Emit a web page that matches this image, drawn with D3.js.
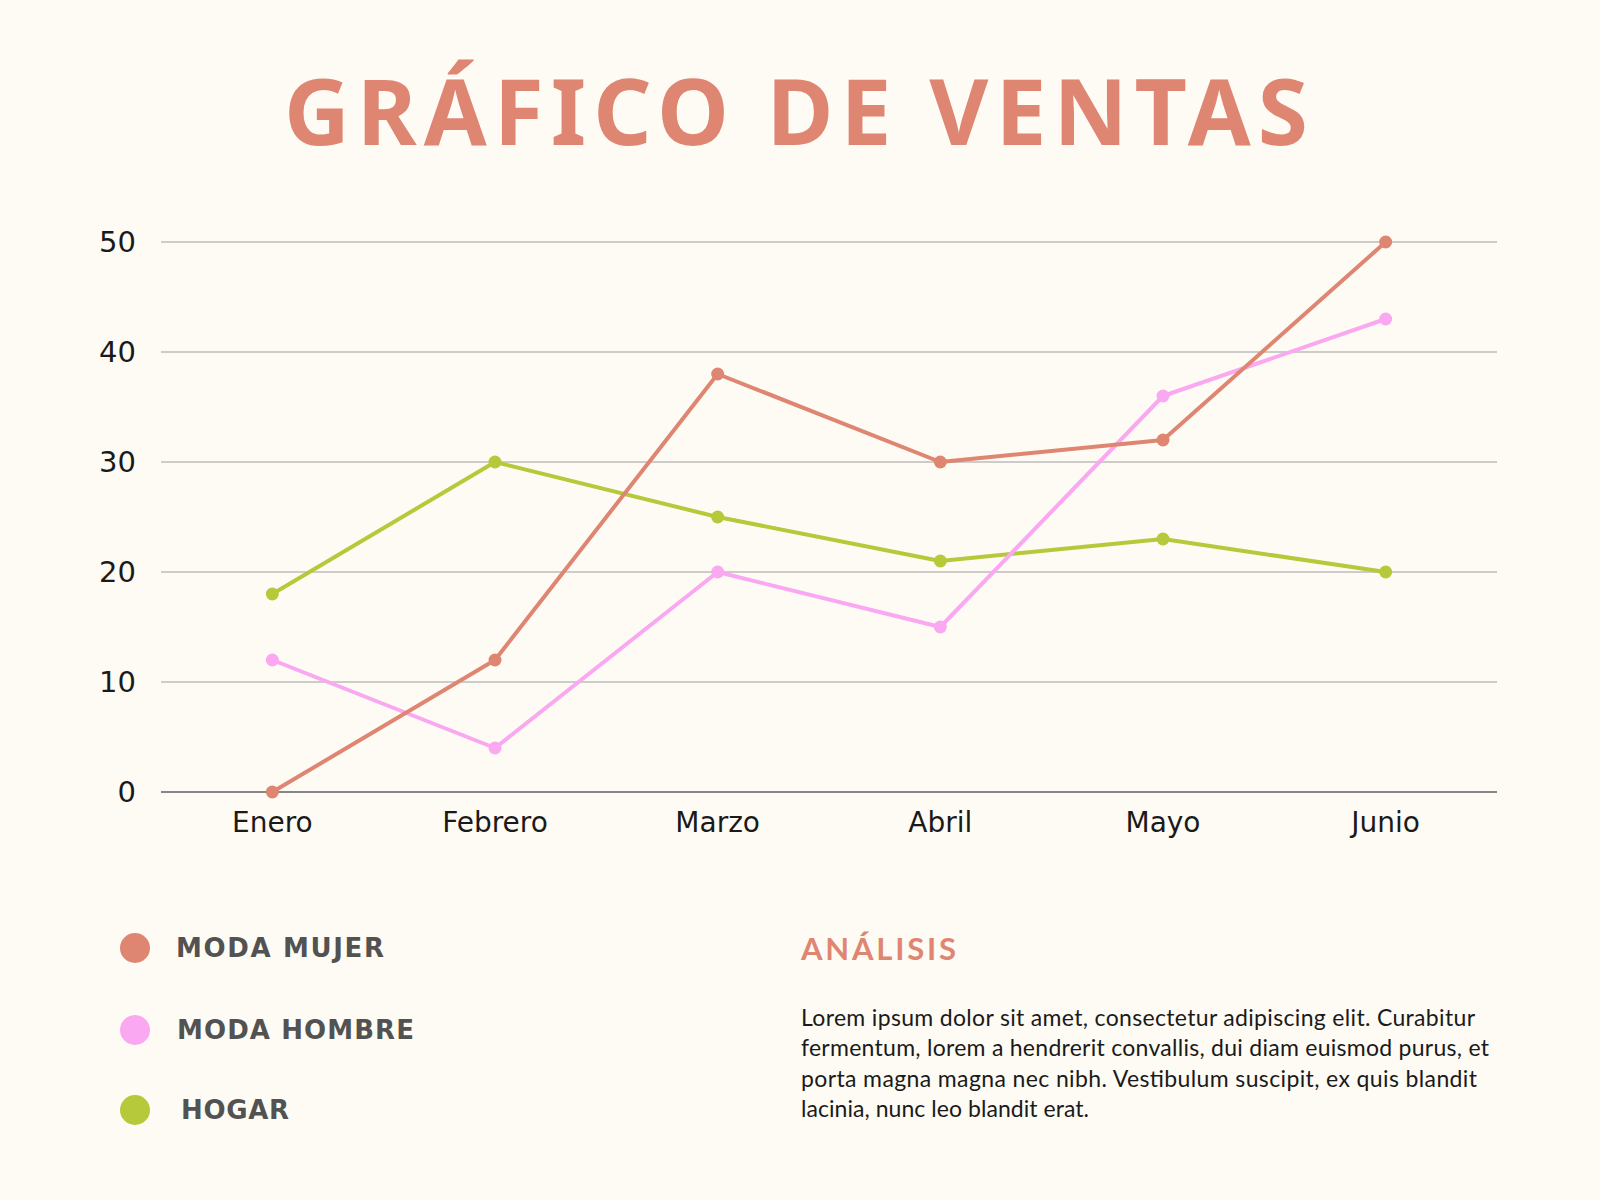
<!DOCTYPE html>
<html>
<head>
<meta charset="utf-8">
<script src="https://cdn.jsdelivr.net/npm/d3@7"></script>
<style>
  body { margin: 0; background: #FEFBF4; }
  svg { display: block; }
</style>
</head>
<body>
<div id="chart"></div>
<script>
// datos del gráfico
var months = ["Enero", "Febrero", "Marzo", "Abril", "Mayo", "Junio"];
var seriesNames = ["MODA MUJER", "MODA HOMBRE", "HOGAR"];
var modaMujer = [0, 12, 38, 30, 32, 50];
var modaHombre = [12, 4, 20, 15, 36, 43];
var hogar = [18, 30, 25, 21, 23, 20];
var yTicks = [0, 10, 20, 30, 40, 50];
var colors = ["#DE8672", "#F9A8F1", "#B5C93B"];
var paragraph = [
    "Lorem ipsum dolor sit amet, consectetur adipiscing elit. Curabitur",
    "fermentum, lorem a hendrerit convallis, dui diam euismod purus, et",
    "porta magna magna nec nibh. Vestibulum suscipit, ex quis blandit",
    "lacinia, nunc leo blandit erat."
];

var width = 1600, height = 1200;
var margin = {top: 242, right: 103, bottom: 408, left: 161};

var svg = d3.select("#chart")
    .append("svg")
    .attr("width", width)
    .attr("height", height);

svg.append("rect")
    .attr("width", width)
    .attr("height", height)
    .attr("fill", "#FEFBF4");

// título
svg.append("text")
    .attr("x", 796)
    .attr("y", 145)
    .attr("text-anchor", "middle")
    .attr("textLength", 1024)
    .style("font-family", "'Noto Sans', sans-serif")
    .style("font-weight", 700)
    .style("font-size", "91px")
    .style("fill", "#DE8672")
    .text("GRÁFICO DE VENTAS");

var x = d3.scalePoint()
    .domain(months)
    .range([margin.left, width - margin.right])
    .padding(0.5);

var y = d3.scaleLinear()
    .domain([0, 50])
    .range([height - margin.bottom, margin.top]);

// líneas de cuadrícula
svg.append("g")
    .selectAll("line")
    .data(yTicks.filter(d => d > 0))
    .enter()
    .append("line")
    .attr("x1", margin.left)
    .attr("x2", width - margin.right)
    .attr("y1", d => y(d))
    .attr("y2", d => y(d))
    .attr("stroke", "#BDBDBA")
    .attr("stroke-width", 1.5);

// eje base
svg.append("line")
    .attr("x1", margin.left)
    .attr("x2", width - margin.right)
    .attr("y1", y(0))
    .attr("y2", y(0))
    .attr("stroke", "#85858A")
    .attr("stroke-width", 2);

// etiquetas eje y
svg.append("g")
    .selectAll("text")
    .data(yTicks)
    .enter()
    .append("text")
    .attr("x", 136)
    .attr("y", d => y(d))
    .attr("dy", "0.36em")
    .attr("text-anchor", "end")
    .style("font-family", "'DejaVu Sans', sans-serif")
    .style("font-size", "29px")
    .style("fill", "#1A1A1A")
    .text(d => d);

// etiquetas eje x
svg.append("g")
    .selectAll("text")
    .data(months)
    .enter()
    .append("text")
    .attr("x", d => x(d))
    .attr("y", 832)
    .attr("text-anchor", "middle")
    .style("font-family", "'DejaVu Sans', sans-serif")
    .style("font-size", "28px")
    .style("fill", "#1A1A1A")
    .text(d => d);

// series
var allSeries = [modaMujer, modaHombre, hogar];
var line = d3.line()
    .x((d, i) => x(months[i]))
    .y(d => y(d));

// dibujar de atrás hacia adelante: hogar, hombre, mujer
[2, 1, 0].forEach(function (s) {
    var g = svg.append("g");
    g.append("path")
        .datum(allSeries[s])
        .attr("d", line)
        .attr("fill", "none")
        .attr("stroke", colors[s])
        .attr("stroke-width", 4)
        .attr("stroke-linejoin", "round");
    g.selectAll("circle")
        .data(allSeries[s])
        .enter()
        .append("circle")
        .attr("cx", (d, i) => x(months[i]))
        .attr("cy", d => y(d))
        .attr("r", 6.5)
        .attr("fill", colors[s]);
});

// leyenda
var legendY = [948, 1030, 1110];
var legendX = [176, 177, 181];
var legendW = [208, 237, 108];
var legend = svg.selectAll(".legend")
    .data(seriesNames)
    .enter()
    .append("g")
    .attr("class", "legend");

legend.append("circle")
    .attr("cx", 135)
    .attr("cy", (d, i) => legendY[i])
    .attr("r", 15)
    .attr("fill", (d, i) => colors[i]);

legend.append("text")
    .attr("x", (d, i) => legendX[i])
    .attr("y", (d, i) => legendY[i] + 9)
    .attr("textLength", (d, i) => legendW[i])
    .style("font-family", "'DejaVu Sans', sans-serif")
    .style("font-weight", 700)
    .style("font-size", "26px")
    .style("fill", "#525252")
    .text(d => d);

// análisis
svg.append("text")
    .attr("x", 801)
    .attr("y", 960)
    .attr("textLength", 155)
    .style("font-family", "Lato, sans-serif")
    .style("font-weight", 700)
    .style("font-size", "31px")
    .style("fill", "#DE8672")
    .text("ANÁLISIS");

var paraW = [674, 688, 676, 288];
svg.append("g")
    .selectAll("text")
    .data(paragraph)
    .enter()
    .append("text")
    .attr("x", 801)
    .attr("y", (d, i) => 1025.5 + i * 30.5)
    .attr("textLength", (d, i) => paraW[i])
    .style("font-family", "Lato, sans-serif")
    .style("font-size", "23px")
    .style("fill", "#1A1A1A")
    .text(d => d);
</script>
</body>
</html>
